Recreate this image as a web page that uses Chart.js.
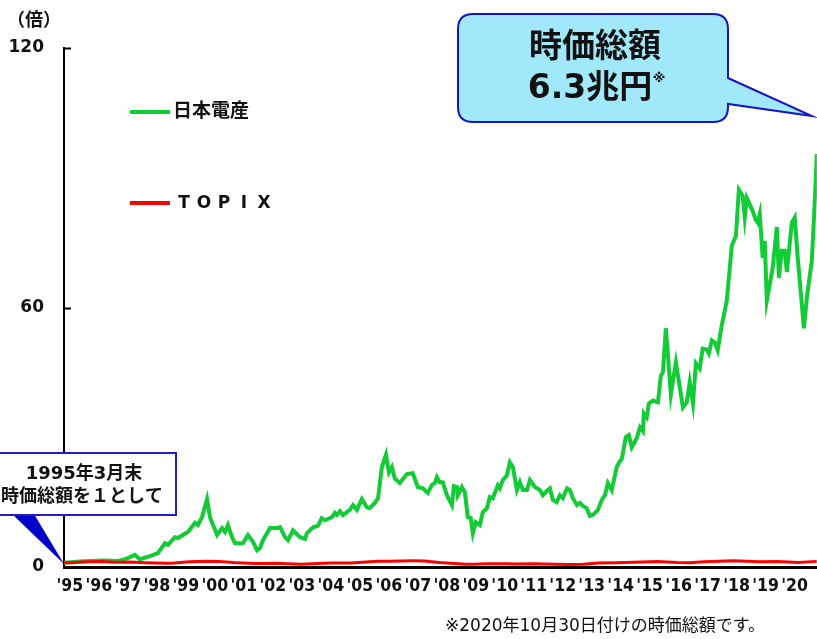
<!DOCTYPE html>
<html>
<head>
<meta charset="utf-8">
<script src="https://cdn.jsdelivr.net/npm/chart.js@4.4.0/dist/chart.umd.min.js"></script>
<style>
body { margin: 0; background: #fff; }
#wrap { width: 817px; height: 639px; }
</style>
</head>
<body>
<div id="wrap"><canvas id="grafico" width="817" height="639"></canvas></div>
<script>
// 1995年3月末 = 1 とした時価総額の推移（年は小数表記）
const nidecYears = [1995.25, 1995.79, 1996.13, 1996.64, 1997.08, 1997.32, 1997.49, 1997.66, 1997.83, 1998.17,
  1998.44, 1998.68, 1998.78, 1999.02, 1999.12, 1999.46, 1999.70, 1999.80, 1999.94, 2000.11,
  2000.21, 2000.45, 2000.62, 2000.72, 2000.82, 2000.96, 2001.06, 2001.33, 2001.50, 2001.67,
  2001.81, 2001.91, 2002.01, 2002.25, 2002.49, 2002.59, 2002.76, 2002.86, 2003.03, 2003.27,
  2003.44, 2003.50, 2003.71, 2003.88, 2004.01, 2004.12, 2004.35, 2004.45, 2004.52, 2004.63,
  2004.73, 2004.96, 2005.07, 2005.20, 2005.37, 2005.54, 2005.64, 2005.81, 2005.92, 2006.05,
  2006.19, 2006.29, 2006.39, 2006.49, 2006.66, 2006.90, 2007.10, 2007.27, 2007.44, 2007.61,
  2007.75, 2007.85, 2007.92, 2008.02, 2008.12, 2008.26, 2008.43, 2008.50, 2008.60, 2008.63,
  2008.77, 2008.87, 2008.97, 2009.07, 2009.14, 2009.24, 2009.38, 2009.48, 2009.62, 2009.72,
  2009.82, 2009.99, 2010.06, 2010.16, 2010.30, 2010.40, 2010.50, 2010.64, 2010.74, 2010.84,
  2010.98, 2011.08, 2011.25, 2011.42, 2011.52, 2011.69, 2011.76, 2011.86, 2011.99, 2012.10,
  2012.20, 2012.34, 2012.44, 2012.54, 2012.68, 2012.78, 2012.88, 2013.01, 2013.12, 2013.22,
  2013.39, 2013.52, 2013.63, 2013.73, 2013.86, 2014.03, 2014.14, 2014.20, 2014.34, 2014.44,
  2014.54, 2014.71, 2014.82, 2014.92, 2014.95, 2015.05, 2015.12, 2015.26, 2015.43, 2015.53,
  2015.60, 2015.70, 2015.87, 2016.04, 2016.28, 2016.41, 2016.51, 2016.62, 2016.72, 2016.85,
  2016.95, 2017.09, 2017.16, 2017.26, 2017.36, 2017.46, 2017.60, 2017.77, 2017.94, 2018.08,
  2018.18, 2018.31, 2018.38, 2018.45, 2018.65, 2018.75, 2018.82, 2018.89, 2018.99, 2019.06,
  2019.13, 2019.33, 2019.47, 2019.54, 2019.64, 2019.74, 2019.81, 2019.98, 2020.08, 2020.18,
  2020.39, 2020.49, 2020.66, 2020.76, 2020.83];
const nidecValues = [1.0, 1.3, 1.4, 1.5, 1.4, 1.8, 2.3, 2.8, 1.8, 2.5,
  3.2, 5.5, 5.1, 6.9, 6.7, 8.1, 10.2, 9.7, 11.5, 15.7,
  11.5, 7.4, 9.0, 8.1, 9.7, 6.9, 5.5, 5.5, 7.4, 5.8,
  3.9, 4.4, 6.2, 9.0, 9.0, 9.2, 6.9, 6.2, 8.5, 6.9,
  6.5, 7.8, 9.2, 9.5, 11.3, 10.8, 11.5, 12.5, 12.0, 12.9,
  12.0, 13.2, 14.3, 13.2, 15.7, 13.8, 13.6, 14.8, 15.9, 23.1,
  26.0, 21.9, 23.1, 20.5, 19.4, 21.5, 21.7, 18.5, 18.2, 17.1,
  19.0, 19.4, 20.8, 19.6, 19.6, 16.6, 14.3, 18.7, 18.5, 16.6,
  18.5, 17.3, 11.5, 11.3, 7.8, 10.4, 9.7, 12.7, 13.6, 16.2,
  15.9, 18.9, 18.2, 20.1, 21.2, 24.2, 23.1, 17.8, 19.6, 17.8,
  17.8, 20.1, 18.5, 17.8, 16.6, 17.8, 18.2, 15.5, 15.0, 16.6,
  15.9, 18.2, 17.8, 15.9, 14.3, 14.8, 14.1, 13.6, 11.8, 12.0,
  13.2, 15.5, 16.6, 19.4, 17.8, 23.1, 24.5, 24.9, 30.0, 30.5,
  27.7, 29.8, 32.3, 31.4, 35.5, 34.6, 37.8, 38.5, 38.1, 44.3,
  45.0, 55.2, 39.9, 47.3, 36.9, 38.1, 42.7, 37.8, 47.1, 45.9,
  50.5, 50.3, 49.4, 52.4, 51.9, 50.1, 55.9, 61.6, 74.3, 76.6,
  87.2, 85.8, 80.8, 85.3, 82.3, 80.3, 79.6, 81.6, 71.5, 75.4,
  61.6, 69.2, 78.6, 66.9, 73.1, 73.1, 68.2, 79.6, 80.8, 71.5,
  55.2, 62.3, 70.8, 84.7, 95.5];

const topixYears = [1995.25, 1995.5, 1996.0, 1996.5, 1997.0, 1997.5, 1998.0, 1998.75, 1999.0, 1999.5,
  2000.1, 2000.5, 2001.0, 2001.7, 2002.0, 2002.4, 2003.3, 2003.9, 2004.3, 2005.0,
  2005.9, 2006.3, 2007.1, 2007.5, 2008.0, 2008.9, 2009.2, 2009.6, 2010.3, 2010.6,
  2011.2, 2011.9, 2012.5, 2012.9, 2013.4, 2014.0, 2014.9, 2015.4, 2016.1, 2016.5,
  2017.0, 2018.0, 2018.9, 2019.5, 2020.2, 2020.83];
const topixValues = [1.0, 0.98, 1.22, 1.3, 1.12, 1.15, 1.0, 0.85, 0.9, 1.2,
  1.35, 1.3, 1.05, 0.82, 0.82, 0.85, 0.62, 0.8, 0.92, 0.92,
  1.32, 1.35, 1.42, 1.4, 1.05, 0.66, 0.62, 0.78, 0.78, 0.7,
  0.73, 0.62, 0.58, 0.62, 0.95, 0.98, 1.15, 1.3, 1.05, 1.0,
  1.2, 1.45, 1.2, 1.25, 1.05, 1.3];

const yearLabels = ["'95", "'96", "'97", "'98", "'99", "'00", "'01", "'02", "'03", "'04", "'05", "'06", "'07",
  "'08", "'09", "'10", "'11", "'12", "'13", "'14", "'15", "'16", "'17", "'18", "'19", "'20"];
const yTicks = [0, 60, 120];

const verde = '#12cc36';
const rojo = '#ff0000';
const fuente = '"DejaVu Sans", "Noto Sans CJK JP", sans-serif';

const nidecPts = nidecYears.map((x, i) => ({ x: x, y: nidecValues[i] }));
const topixPts = topixYears.map((x, i) => ({ x: x, y: topixValues[i] }));

// posiciones de las etiquetas de año
const labelPos = yearLabels.map((t, i) => 1995.45 + i * 0.985);

const extras = {
  id: 'extras',
  afterDraw(chart) {
    const c = chart.ctx;
    const area = chart.chartArea;
    const ys = chart.scales.y;
    c.save();

    // marcas del eje y
    c.strokeStyle = '#000';
    c.lineWidth = 2;
    [60, 120].forEach(v => {
      const py = Math.round(ys.getPixelForValue(v)) + 0.5;
      c.beginPath();
      c.moveTo(area.left, py);
      c.lineTo(area.left + 7, py);
      c.stroke();
    });

    // unidad
    c.fillStyle = '#111';
    c.font = 'bold 18px ' + fuente;
    c.textAlign = 'center';
    c.textBaseline = 'middle';
    c.fillText('（倍）', 34, 21);

    // leyenda
    c.lineWidth = 4;
    c.strokeStyle = verde;
    c.beginPath(); c.moveTo(130, 112); c.lineTo(170, 112); c.stroke();
    c.strokeStyle = rojo;
    c.beginPath(); c.moveTo(130, 203); c.lineTo(170, 203); c.stroke();
    c.textAlign = 'left';
    c.font = 'bold 19px ' + fuente;
    c.fillText('日本電産', 173, 112);
    c.font = 'bold 17px ' + fuente;
    const letras = ['T', 'O', 'P', 'I', 'X'];
    letras.forEach((l, i) => {
      c.textAlign = 'center';
      c.fillText(l, 184 + i * 20, 204);
    });

    // globo superior
    const L = 458, T = 14, R = 728, B = 122, r = 15;
    c.beginPath();
    c.moveTo(L + r, T);
    c.lineTo(R - r, T);
    c.quadraticCurveTo(R, T, R, T + r);
    c.lineTo(R, 78);
    c.lineTo(812, 116);
    c.lineTo(R, 104);
    c.lineTo(R, B - r);
    c.quadraticCurveTo(R, B, R - r, B);
    c.lineTo(L + r, B);
    c.quadraticCurveTo(L, B, L, B - r);
    c.lineTo(L, T + r);
    c.quadraticCurveTo(L, T, L + r, T);
    c.closePath();
    c.fillStyle = '#a2e8fb';
    c.fill();
    c.strokeStyle = '#1414c8';
    c.lineWidth = 2;
    c.stroke();
    c.fillStyle = '#111';
    c.textAlign = 'center';
    c.font = 'bold 33px ' + fuente;
    c.fillText('時価総額', 595, 48);
    c.fillText('6.3兆円', 590, 89);
    c.font = 'bold 13px ' + fuente;
    c.fillText('※', 659, 79);

    // globo inferior izquierdo
    c.fillStyle = '#0000c8';
    c.beginPath();
    c.moveTo(12, 514);
    c.lineTo(34, 514);
    c.lineTo(64, 564);
    c.closePath();
    c.fill();
    c.fillStyle = '#fff';
    c.fillRect(-2, 453, 178, 62);
    c.strokeStyle = '#2020c0';
    c.lineWidth = 2;
    c.strokeRect(-2, 453, 178, 62);
    c.fillStyle = '#111';
    c.font = 'bold 18px ' + fuente;
    c.fillText('1995年3月末', 84, 474);
    c.fillText('時価総額を１として', 82, 497);

    // nota
    c.font = '17px ' + fuente;
    c.textAlign = 'left';
    c.fillText('※2020年10月30日付けの時価総額です。', 445, 627);

    c.restore();
  }
};

const ctx = document.getElementById('grafico').getContext('2d');
const miGrafico = new Chart(ctx, {
  type: 'line',
  data: {
    datasets: [{
      label: '日本電産',
      data: nidecPts,
      borderColor: verde,
      borderWidth: 4,
      pointRadius: 0,
      tension: 0,
      order: 1
    }, {
      label: 'TOPIX',
      data: topixPts,
      borderColor: rojo,
      borderWidth: 3,
      pointRadius: 0,
      tension: 0,
      order: 0
    }]
  },
  options: {
    responsive: false,
    animation: false,
    layout: { padding: { top: 48, right: 0, left: 0, bottom: 0 } },
    plugins: {
      legend: { display: false },
      tooltip: { enabled: false }
    },
    scales: {
      x: {
        type: 'linear',
        min: 1995.25,
        max: 2020.83,
        afterFit: s => { s.height = 72; },
        afterBuildTicks: s => { s.ticks = labelPos.map(v => ({ value: v })); },
        grid: { display: false, drawTicks: false },
        border: { display: true, color: '#000', width: 3 },
        ticks: {
          autoSkip: false,
          maxRotation: 0,
          padding: 9,
          color: '#111',
          font: { family: '"DejaVu Sans Condensed", "DejaVu Sans", sans-serif', weight: 'bold', size: 17.5 },
          callback: (v, i) => yearLabels[i]
        }
      },
      y: {
        min: 0,
        max: 120,
        afterFit: s => { s.width = 64; },
        afterBuildTicks: s => { s.ticks = yTicks.map(v => ({ value: v })); },
        grid: { display: false, drawTicks: false },
        border: { display: true, color: '#000', width: 2 },
        ticks: {
          padding: 20,
          color: '#111',
          font: { family: '"DejaVu Sans", sans-serif', weight: 'bold', size: 17 }
        }
      }
    }
  },
  plugins: [extras]
});
</script>
</body>
</html>
